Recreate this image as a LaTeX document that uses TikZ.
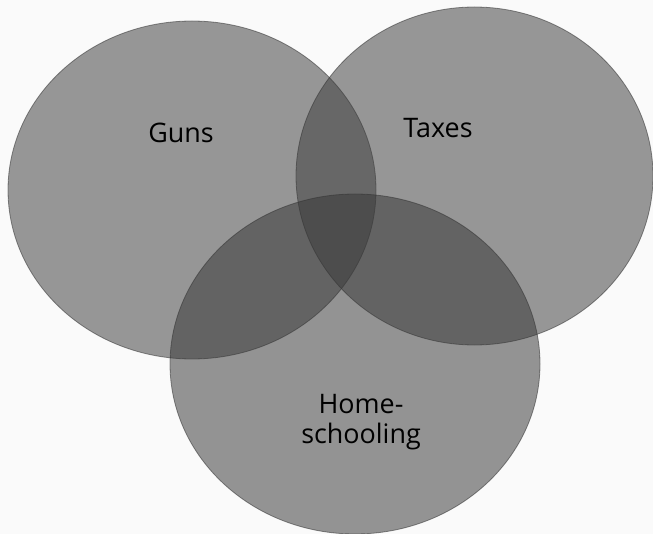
\documentclass[tikz,border=0pt]{standalone}
\usepackage{fontspec}
\setmainfont{Open Sans}
\usetikzlibrary{positioning}

\begin{document}
\begin{tikzpicture}[x=1bp, y=-1bp,
  set/.style={fill=black!76, fill opacity=0.525, draw=black!80, draw opacity=0.55, line width=0.8bp},
  setname/.style={font=\fontsize{27}{30}\selectfont, text=black, align=center, inner sep=0pt}]
    \useasboundingbox[fill=white!98!black] (0,0) rectangle (653,534);

    % The three sets
    \path[set] (192,190) ellipse [x radius=184, y radius=169];
    \path[set] (474.5,176) ellipse [x radius=178.5, y radius=169];
    \path[set, fill=black!79] (355,364) ellipse [x radius=185, y radius=170];

    % Set names
    \node[setname] (guns) at (181,133) {Guns};
    \node[setname] (taxes) at (438,128) {Taxes};
    \node[setname] (home) at (361,422) {Home-\\schooling};
\end{tikzpicture}
\end{document}
